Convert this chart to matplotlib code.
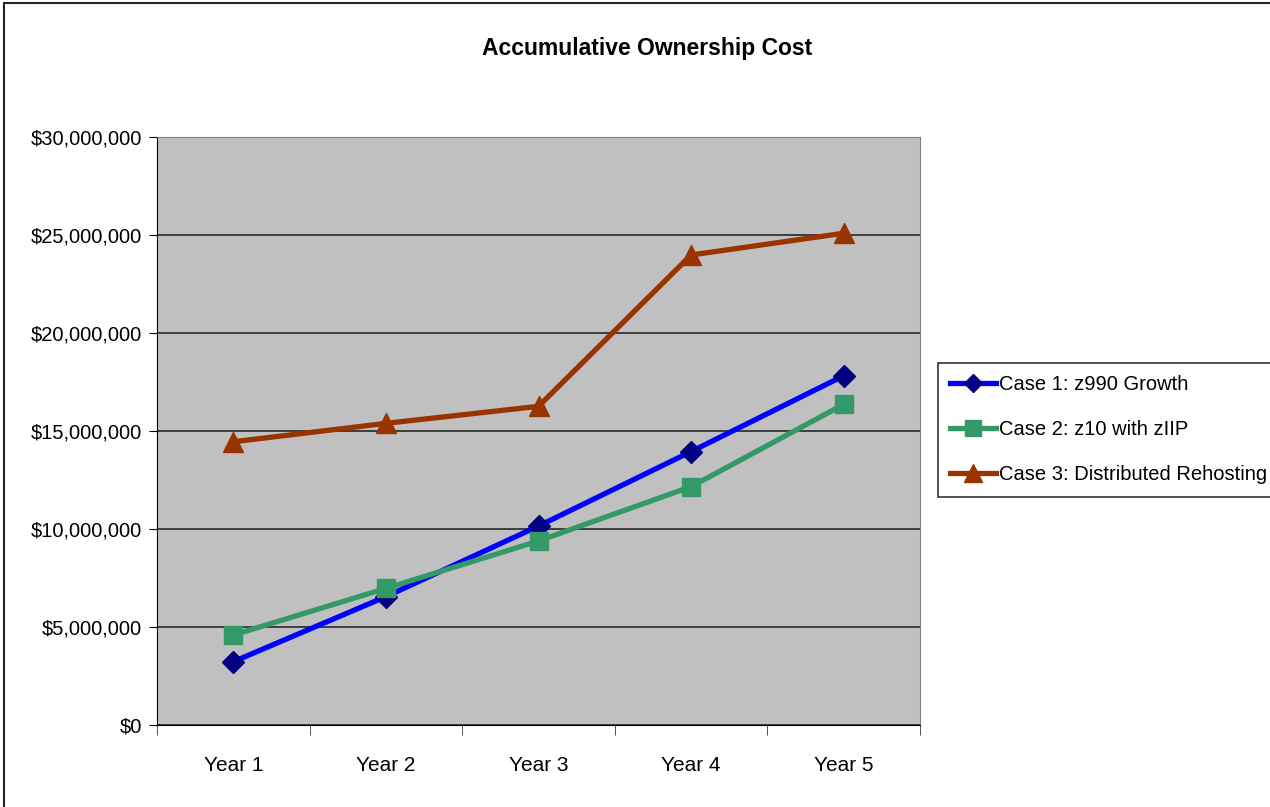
import matplotlib.pyplot as plt
from matplotlib.ticker import FuncFormatter, MultipleLocator
from matplotlib.patches import Rectangle

plt.rcParams['font.family'] = ['Liberation Sans', 'DejaVu Sans']

# data
years = ['Year 1', 'Year 2', 'Year 3', 'Year 4', 'Year 5']
case1 = [3.23e6, 6.55e6, 10.15e6, 13.95e6, 17.82e6]
case2 = [4.59e6, 6.97e6, 9.39e6, 12.16e6, 16.36e6]
case3 = [14.45e6, 15.39e6, 16.26e6, 23.98e6, 25.09e6]

fig = plt.figure(figsize=(12.7, 8.07), dpi=100)
ax = fig.add_axes([157/1270, 1-725/807, (920-157)/1270, (725-137)/807])
ax.set_facecolor('#C0C0C0')

x = range(len(years))
ax.plot(x, case1, color='#0000FF', lw=3.8, marker='D', ms=11, mfc='#000080', mec='#000080',
        label='Case 1: z990 Growth', zorder=3)
ax.plot(x, case2, color='#339966', lw=3.8, marker='s', ms=13, mfc='#339966', mec='#339966',
        label='Case 2: z10 with zIIP', zorder=3)
ax.plot(x, case3, color='#993300', lw=3.8, marker='^', ms=15, mfc='#993300', mec='#993300',
        label='Case 3: Distributed Rehosting', zorder=3)

ax.set_xlim(-0.5, 4.5)
ax.set_ylim(0, 30e6)
ax.yaxis.set_major_locator(MultipleLocator(5e6))
ax.yaxis.set_major_formatter(FuncFormatter(lambda v, p: '${:,.0f}'.format(v)))
ax.grid(axis='y', color='#1a1a1a', lw=1.1)
ax.set_axisbelow(True)

ax.set_xticks(list(x))
ax.set_xticklabels(years)
ax.set_xticks([i - 0.5 for i in range(len(years) + 1)], minor=True)
ax.tick_params(axis='x', which='major', length=0, pad=22, labelsize=15)
ax.tick_params(axis='x', which='minor', length=7, color='#333333')
ax.tick_params(axis='y', length=6, labelsize=14.5, pad=5)

ax.spines['left'].set_color('black')
ax.spines['bottom'].set_color('black')
ax.spines['top'].set_color('#808080')
ax.spines['right'].set_color('#808080')

fig.text(647/1270, 1-48/807, 'Accumulative Ownership Cost', ha='center', va='center',
         fontsize=16.5, fontweight='bold')

leg = ax.legend(loc='upper left', bbox_to_anchor=(938/1270, 1-363/807), bbox_transform=fig.transFigure,
                fontsize=14.5, frameon=True, fancybox=False, edgecolor='black', handlelength=2.3,
                handletextpad=0.15, borderpad=0.6, labelspacing=1.3, borderaxespad=0,
                markerscale=0.85)
leg.get_frame().set_linewidth(1.2)

# outer chart border
fig.patches.append(Rectangle((4/1270, -0.05), 1.2, 1-3/807+0.05, transform=fig.transFigure,
                             fill=False, edgecolor='#222222', lw=1.5))

plt.savefig('out.png', dpi=100)
